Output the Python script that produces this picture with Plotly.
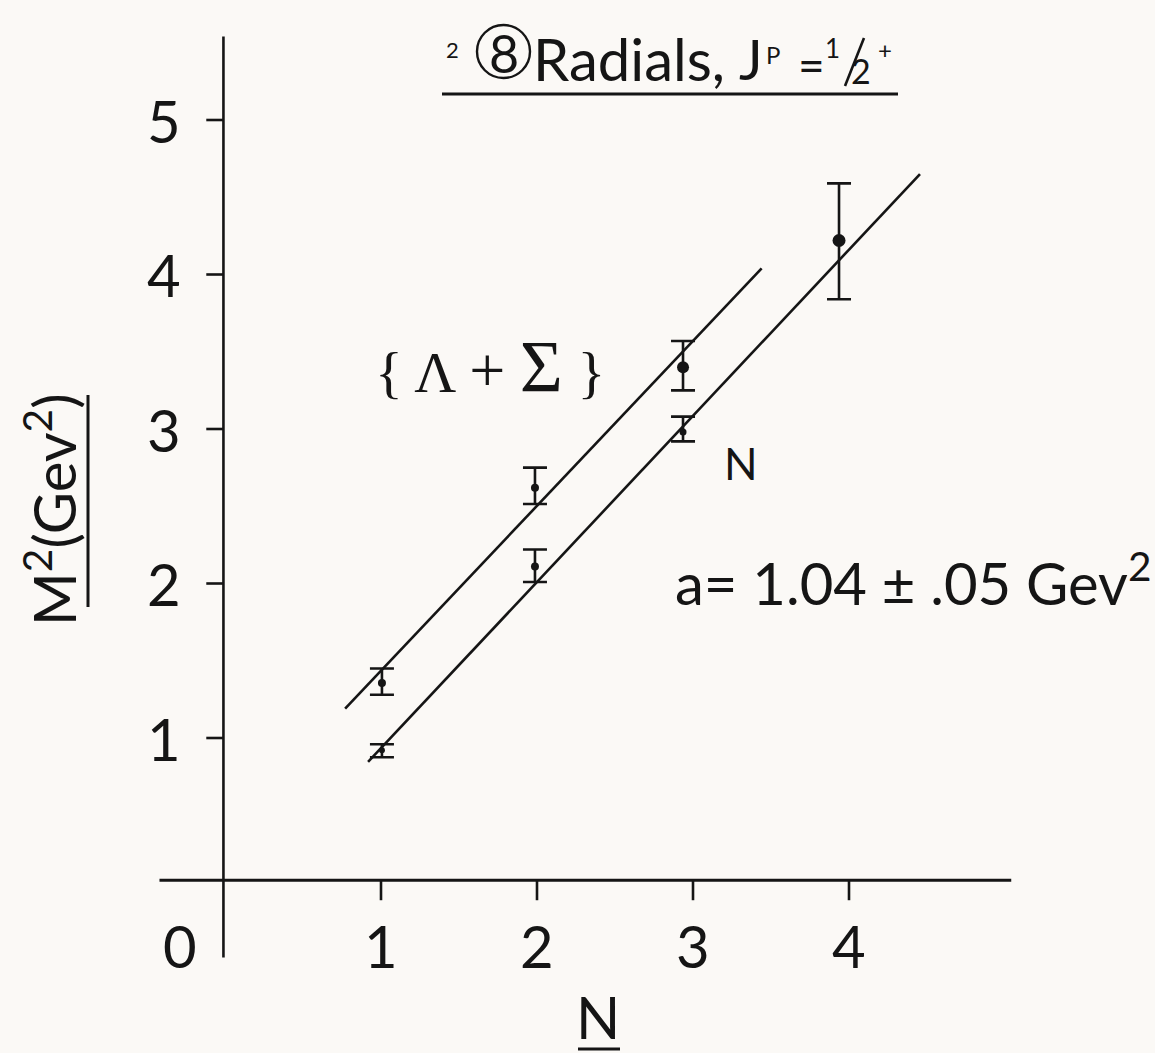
import plotly.graph_objects as go

# Radial excitations: baryon octet, J^P = 1/2+
# Λ + Σ family
n_ls = [1.006, 1.987, 2.936]
m2_ls = [1.356, 2.62, 3.40]
m2_ls_up = [0.094, 0.13, 0.17]
m2_ls_dn = [0.076, 0.105, 0.15]
size_ls = [8, 8, 12]

# Nucleon family
n_nuc = [1.006, 1.987, 2.936, 3.936]
m2_nuc = [0.92, 2.11, 2.98, 4.22]
m2_nuc_up = [0.04, 0.11, 0.10, 0.37]
m2_nuc_dn = [0.045, 0.10, 0.06, 0.38]
size_nuc = [6, 8, 7, 13]

# Linear trajectories (end points of each fitted line)
fit_ls_n = [0.77, 3.44]
fit_ls_m2 = [1.19, 4.04]
fit_nuc_n = [0.917, 4.455]
fit_nuc_m2 = [0.845, 4.65]

x_ticks = [1, 2, 3, 4]
x_tick_labels = ["1", "2", "3", "4"]
y_ticks = [1, 2, 3, 4, 5]
y_tick_labels = ["1", "2", "3", "4", "5"]

INK = "#151515"
BG = "#fbf9f6"
FONT = "Lato"
W, H = 1155, 1053

fig = go.Figure()

for xs, ys in [(fit_ls_n, fit_ls_m2), (fit_nuc_n, fit_nuc_m2)]:
    fig.add_trace(go.Scatter(x=xs, y=ys, mode="lines",
                             line=dict(color=INK, width=2.6),
                             showlegend=False, hoverinfo="skip"))

for xs, ys, up, dn, sz in [(n_ls, m2_ls, m2_ls_up, m2_ls_dn, size_ls),
                           (n_nuc, m2_nuc, m2_nuc_up, m2_nuc_dn, size_nuc)]:
    fig.add_trace(go.Scatter(
        x=xs, y=ys, mode="markers",
        marker=dict(color=INK, size=sz, opacity=1, line=dict(width=0)),
        error_y=dict(type="data", symmetric=False, array=up, arrayminus=dn,
                     color=INK, thickness=2.6, width=12),
        showlegend=False))


def px_x(p):
    return p / W


def px_y(p):
    return 1 - p / H


# axis lines crossing near the origin
Y_AXIS_X = -0.01
X_AXIS_Y = 0.08
shapes = [
    dict(type="line", x0=Y_AXIS_X, x1=Y_AXIS_X, y0=-0.42, y1=5.54,
         line=dict(color=INK, width=2.6)),
    dict(type="line", x0=-0.42, x1=5.04, y0=X_AXIS_Y, y1=X_AXIS_Y,
         line=dict(color=INK, width=3)),
]
for t in y_ticks:
    shapes.append(dict(type="line", x0=-0.12, x1=Y_AXIS_X, y0=t, y1=t,
                       line=dict(color=INK, width=2.6)))
for t in x_ticks:
    shapes.append(dict(type="line", x0=t, x1=t, y0=X_AXIS_Y, y1=-0.05,
                       line=dict(color=INK, width=2.6)))

# underlines and title ornaments (paper coordinates)
for x0, x1, y in [(442, 898, 94), (578, 620, 1049)]:
    shapes.append(dict(type="line", xref="paper", yref="paper",
                       x0=px_x(x0), x1=px_x(x1), y0=px_y(y), y1=px_y(y),
                       line=dict(color=INK, width=3)))
shapes.append(dict(type="line", xref="paper", yref="paper",
                   x0=px_x(88), x1=px_x(88), y0=px_y(395), y1=px_y(607),
                   line=dict(color=INK, width=3)))
# circle around the 8
shapes.append(dict(type="circle", xref="paper", yref="paper",
                   x0=px_x(477), x1=px_x(530), y0=px_y(25), y1=px_y(78),
                   line=dict(color=INK, width=2.4)))
# fraction slash
shapes.append(dict(type="line", xref="paper", yref="paper",
                   x0=px_x(845), x1=px_x(864), y0=px_y(86), y1=px_y(38),
                   line=dict(color=INK, width=2.6)))

ann = []


def txt(x, y, text, size, family=FONT, ref="data", xa="center", ya="middle", **kw):
    d = dict(x=x, y=y, text=text, showarrow=False, xanchor=xa, yanchor=ya,
             font=dict(family=family, size=size, color=INK), **kw)
    if ref == "paper":
        d.update(xref="paper", yref="paper", x=px_x(x), y=px_y(y))
    ann.append(d)


for t, lab in zip(y_ticks, y_tick_labels):
    txt(-0.39, t, lab, 58)
for t, lab in zip(x_ticks, x_tick_labels):
    txt(t, -0.34, lab, 58)
txt(-0.29, -0.34, "0", 58)

txt(1.70, 3.40,
    "{ Λ <span style='font-size:64px'>+</span> "
    "<span style='font-size:74px'>Σ</span> }", 58,
    family="Liberation Serif")
txt(3.31, 2.78, "N", 44)
txt(2.87, 2.03, "a= 1.04 ± .05 Gev<sup>2</sup>", 58, xa="left")

# title pieces
txt(452, 50, "2", 22, ref="paper")
txt(503.5, 53, "8", 52, ref="paper")
txt(531, 58, "Radials,", 58, ref="paper", xa="left")
txt(751, 58, "J", 56, ref="paper")
txt(773, 55, "P", 24, ref="paper")
txt(811, 64, "=", 46, ref="paper")
txt(832, 48, "1", 26, ref="paper")
txt(861, 70, "2", 34, ref="paper")
txt(885, 50, "+", 24, ref="paper")

txt(50, 510, "M<sup>2</sup>(Gev<sup>2</sup>)", 58, ref="paper", textangle=-90)
txt(598, 1016, "N", 58, ref="paper")

fig.update_layout(
    width=W, height=H,
    margin=dict(l=0, r=0, t=0, b=0),
    paper_bgcolor=BG, plot_bgcolor=BG,
    xaxis=dict(range=[-225 / 156, (W - 225) / 156], visible=False),
    yaxis=dict(range=[(892.5 - H) / 154.5, 892.5 / 154.5], visible=False),
    shapes=shapes, annotations=ann,
)

fig.write_html("out.html")
